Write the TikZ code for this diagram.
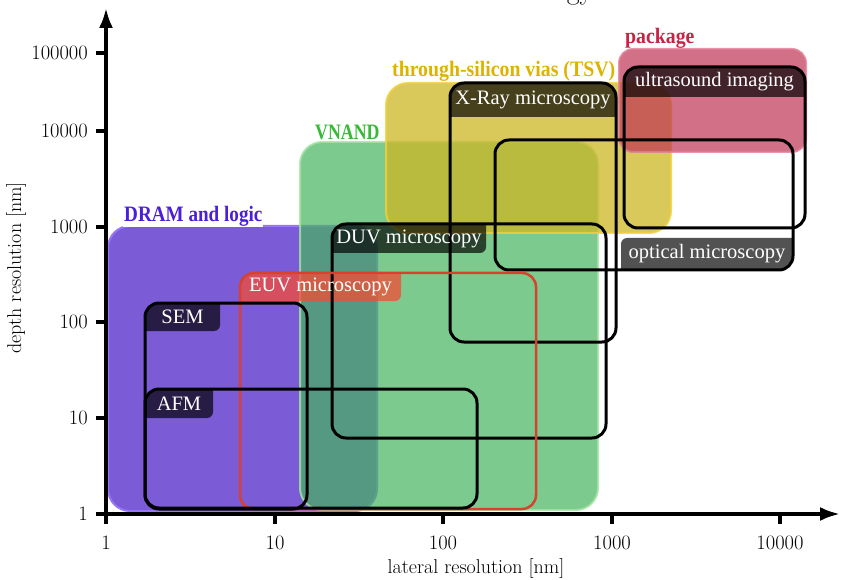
\documentclass[tikz,border=0pt]{standalone}
\usepackage{fontspec}
\newfontfamily\catfont{Liberation Serif}
\usetikzlibrary{arrows.meta}
\definecolor{dramfill}{RGB}{124,91,214}
\definecolor{dramedge}{RGB}{150,118,250}
\definecolor{dramtext}{RGB}{75,30,215}
\definecolor{nandfill}{RGB}{70,180,95}
\definecolor{nandedge}{RGB}{165,228,165}
\definecolor{nandtext}{RGB}{55,185,55}
\definecolor{tsvfill}{RGB}{204,182,35}
\definecolor{tsvedge}{RGB}{242,208,60}
\definecolor{tsvtext}{RGB}{222,178,0}
\definecolor{pkgfill}{RGB}{191,51,84}
\definecolor{pkgedge}{RGB}{225,125,150}
\definecolor{pkgtext}{RGB}{200,35,70}
\definecolor{euvline}{RGB}{215,65,45}
\definecolor{euvtab}{RGB}{245,76,55}
\tikzset{
  catrect/.style={rounded corners=22pt, line width=2pt},
  mbox/.style={draw=black, line width=3pt, rounded corners=14pt},
  tabshape/.style={fill=black, fill opacity=0.68, rounded corners=6pt},
  tablabel/.style={text=white, inner sep=0pt, font=\catfont\fontsize{20.5}{22}\selectfont},
  catlabel/.style={inner sep=0pt, anchor=base west, font=\catfont\bfseries\fontsize{22}{26}\selectfont},
  axisline/.style={line width=3.5pt, -{Latex[length=20pt,width=14pt]}},
  tickline/.style={line width=3.5pt},
  ticklabel/.style={inner sep=0pt, font=\fontsize{20.5}{22}\selectfont},
  axislabel/.style={inner sep=0pt, font=\fontsize{20}{22}\selectfont}
}
\begin{document}
\begin{tikzpicture}[x=1pt,y=-1pt]
\useasboundingbox (0,0) rectangle (841,580);
% title fragment (cut by the top edge, as in the reference)
\node[anchor=base, inner sep=0pt, font=\fontsize{28}{30}\selectfont] (title) at (580,-0.5) {gy};

% category areas
\fill[catrect, dramfill] (108,226) rectangle (377,511);
\draw[catrect, dramedge] (108,226) rectangle (377,511);
\fill[catrect, nandfill, fill opacity=0.7] (300,142) rectangle (598,510);
\draw[catrect, nandedge, draw opacity=0.8] (300,142) rectangle (598,510);
\fill[catrect, tsvfill, fill opacity=0.75] (386,83) rectangle (671,233);
\draw[catrect, tsvedge, draw opacity=0.8] (386,83) rectangle (671,233);
\fill[catrect, rounded corners=14pt, pkgfill, fill opacity=0.7] (619,49) rectangle (806,152);
\draw[catrect, rounded corners=14pt, pkgedge, draw opacity=0.8] (619,49) rectangle (806,152);

% category labels
\node[catlabel, text=dramtext, fill=white, inner xsep=1pt] (dram) at (123,222) {\scalebox{0.87}[1]{DRAM and logic}};
\node[catlabel, text=nandtext] (vnand) at (315,140) {\scalebox{0.81}[1]{VNAND}};
\node[catlabel, text=tsvtext] (tsv) at (392,77) {\scalebox{0.9}[1]{through-silicon vias (TSV)}};
\node[catlabel, text=pkgtext] (pkg) at (625,44) {\scalebox{0.9}[1]{package}};

% tabs
\begin{scope}
  \clip[rounded corners=14pt] (450,83) rectangle (616,342);
  \fill[tabshape] (440,73) rectangle (626,117);
\end{scope}
\begin{scope}
  \clip[rounded corners=14pt] (624,67) rectangle (805,228);
  \fill[tabshape] (614,57) rectangle (815,97);
\end{scope}
\begin{scope}
  \clip[rounded corners=14pt] (495,140) rectangle (793,270);
  \fill[tabshape] (621,238) rectangle (803,280);
\end{scope}
\begin{scope}
  \clip[rounded corners=14pt] (332,224) rectangle (606,438);
  \fill[tabshape] (322,214) rectangle (486,253);
\end{scope}
\begin{scope}
  \clip[rounded corners=14pt] (240,273) rectangle (536,509);
  \fill[tabshape, fill=euvtab, fill opacity=0.75] (230,263) rectangle (401,301);
\end{scope}
\begin{scope}
  \clip[rounded corners=14pt] (145,303) rectangle (307,509);
  \fill[tabshape] (135,293) rectangle (220,331);
\end{scope}
\begin{scope}
  \clip[rounded corners=14pt] (145,389) rectangle (477,508);
  \fill[tabshape] (135,379) rectangle (213,418);
\end{scope}

% method boxes
\draw[mbox] (450,83) rectangle (616,342);
\draw[mbox] (624,67) rectangle (805,228);
\draw[mbox] (495,140) rectangle (793,270);
\draw[mbox] (332,224) rectangle (606,438);
\draw[mbox, draw=euvline, line width=2.5pt] (240,273) rectangle (536,509);
\draw[mbox] (145,303) rectangle (307,509);
\draw[mbox] (145,389) rectangle (477,508);

% tab labels
\node[tablabel] (xray) at (533,100) {X-Ray microscopy};
\node[tablabel] (us) at (714.5,82) {ultrasound imaging};
\node[tablabel] (opt) at (707,254) {optical microscopy};
\node[tablabel] (duv) at (409,238.5) {DUV microscopy};
\node[tablabel] (euv) at (320.5,287) {EUV microscopy};
\node[tablabel] (sem) at (182.5,317) {SEM};
\node[tablabel] (afm) at (179,403.5) {AFM};

% axes
\coordinate (origin) at (106,514);
\coordinate (ytip) at (106,8);
\coordinate (xtip) at (840,514);
\draw[axisline] (origin) -- (ytip);
\draw[axisline] (origin) -- (xtip);
% y ticks
\foreach \yy/\lab [count=\i] in {514/1,418/10,322/100,227/1000,131/10000,53/100000}{
  \draw[tickline] (96,\yy) -- (106,\yy);
  \node[ticklabel, anchor=east] (yl\i) at (88,\yy) {\lab};
}
% x ticks
\foreach \xx/\lab [count=\i] in {106/1,275/10,443/100,612/1000,780/10000}{
  \draw[tickline] (\xx,514) -- (\xx,524);
  \node[ticklabel] (xl\i) at (\xx,543) {\lab};
}
\node[axislabel] (xlab) at (476,568) {lateral resolution [nm]};
\node[axislabel, rotate=90] (ylab) at (16,268) {depth resolution [nm]};
\end{tikzpicture}
\end{document}
